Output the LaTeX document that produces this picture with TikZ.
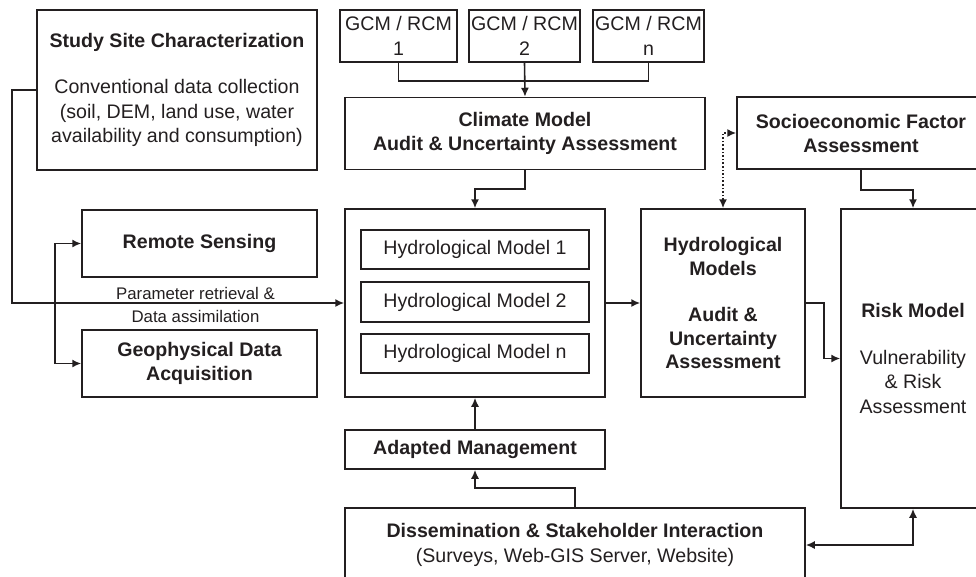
\documentclass[tikz,border=0pt]{standalone}
\usepackage{fontspec}
\setmainfont{Liberation Sans}
\usetikzlibrary{arrows.meta}
\definecolor{ink}{RGB}{35,31,32}
\tikzset{
  box/.style={draw=ink, line width=1.5pt, rectangle, inner sep=0pt, align=center, text=ink,
    font=\fontsize{19.6}{24.5}\selectfont},
  conn/.style={draw=ink, line width=1.6pt, -{Latex[length=9pt,width=8pt]}},
  biconn/.style={draw=ink, line width=1.6pt, {Latex[length=9pt,width=8pt]}-{Latex[length=9pt,width=8pt]}},
  plain/.style={draw=ink, line width=1.6pt},
  lbl/.style={text=ink, inner sep=0pt, font=\fontsize{16.8}{20}\selectfont}
}
\begin{document}
\begin{tikzpicture}[x=1pt,y=-1pt]
\useasboundingbox (0,0) rectangle (976,576);
\clip (0,0) rectangle (976,576);

\node[box, minimum width=280, minimum height=160] (site) at (177,90)
  {\textbf{Study Site Characterization}\\[22pt]Conventional data collection\\(soil, DEM, land use, water\\availability and consumption)};

\node[box, minimum width=117, minimum height=52] (gcm1) at (398.5,36) {GCM / RCM\\1};
\node[box, minimum width=111, minimum height=52] (gcm2) at (524.5,36) {GCM / RCM\\2};
\node[box, minimum width=111, minimum height=52] (gcm3) at (648.5,36) {GCM / RCM\\n};

\node[box, minimum width=360, minimum height=72, font=\bfseries\fontsize{19.6}{23.5}\selectfont] (climate) at (525,133.5)
  {Climate Model\\Audit \& Uncertainty Assessment};

\node[box, minimum width=248, minimum height=72, font=\bfseries\fontsize{19.6}{24}\selectfont] (socio) at (861,133)
  {Socioeconomic Factor\\Assessment};

\node[box, minimum width=235, minimum height=67, font=\bfseries\fontsize{19.6}{24.5}\selectfont] (rs) at (199.5,243.5) {Remote Sensing};
\node[box, minimum width=235, minimum height=67, font=\bfseries\fontsize{19.6}{24.5}\selectfont] (geo) at (199.5,363.5) {Geophysical Data\\Acquisition};

\node[box, minimum width=260, minimum height=188] (hydro) at (475,303) {};
\node[box, minimum width=228, minimum height=39] (hm1) at (475,249.5) {Hydrological Model 1};
\node[box, minimum width=228, minimum height=40] (hm2) at (475,302) {Hydrological Model 2};
\node[box, minimum width=228, minimum height=39] (hmn) at (475,353.5) {Hydrological Model n};

\node[box, minimum width=164, minimum height=188, font=\bfseries\fontsize{19.6}{23.5}\selectfont] (hmodels) at (723,303)
  {Hydrological\\Models\\[23pt]Audit \&\\Uncertainty\\Assessment};

\node[box, minimum width=144, minimum height=299] (risk) at (913,358.5)
  {\textbf{Risk Model}\\[22pt]Vulnerability\\\& Risk\\Assessment};

\node[box, minimum width=260, minimum height=39, font=\bfseries\fontsize{19.6}{24.5}\selectfont] (adapted) at (475,449.5) {Adapted Management};

\node[box, minimum width=460, minimum height=74] (dissem) at (575,545)
  {\textbf{Dissemination \& Stakeholder Interaction}\\(Surveys, Web-GIS Server, Website)};

\coordinate (lx) at (12,303);
\node[lbl, anchor=base] (pr1) at (195.5,299) {Parameter retrieval \&};
\node[lbl, anchor=base] (pr2) at (195.5,322) {Data assimilation};

% connectors
\draw[plain] (gcm1.south) -- ++(0,18) -| (gcm3.south);
\draw[conn] (gcm2.south) -- (climate.north);
\draw[conn] (climate.south) -- ++(0,19) -| (hydro.north);
\draw[conn] (site.west) -| (lx) -- (hydro.west);
\draw[biconn] (rs.west) -- ++(-26,0) |- (geo.west);
\draw[conn] (hydro.east) -- (hmodels.west);
\draw[biconn, dotted] (hmodels.north) |- (socio.west);
\draw[conn] (socio.south) -- ++(0,20) -| (risk.north);
\draw[conn] (hmodels.east) -- ++(18,0) |- (risk.west);
\draw[biconn] (dissem.east) -| (risk.south);
\draw[conn] (adapted.north) -- (hydro.south);
\draw[conn] (dissem.north) -- ++(0,-19) -| (adapted.south);
\end{tikzpicture}
\end{document}
